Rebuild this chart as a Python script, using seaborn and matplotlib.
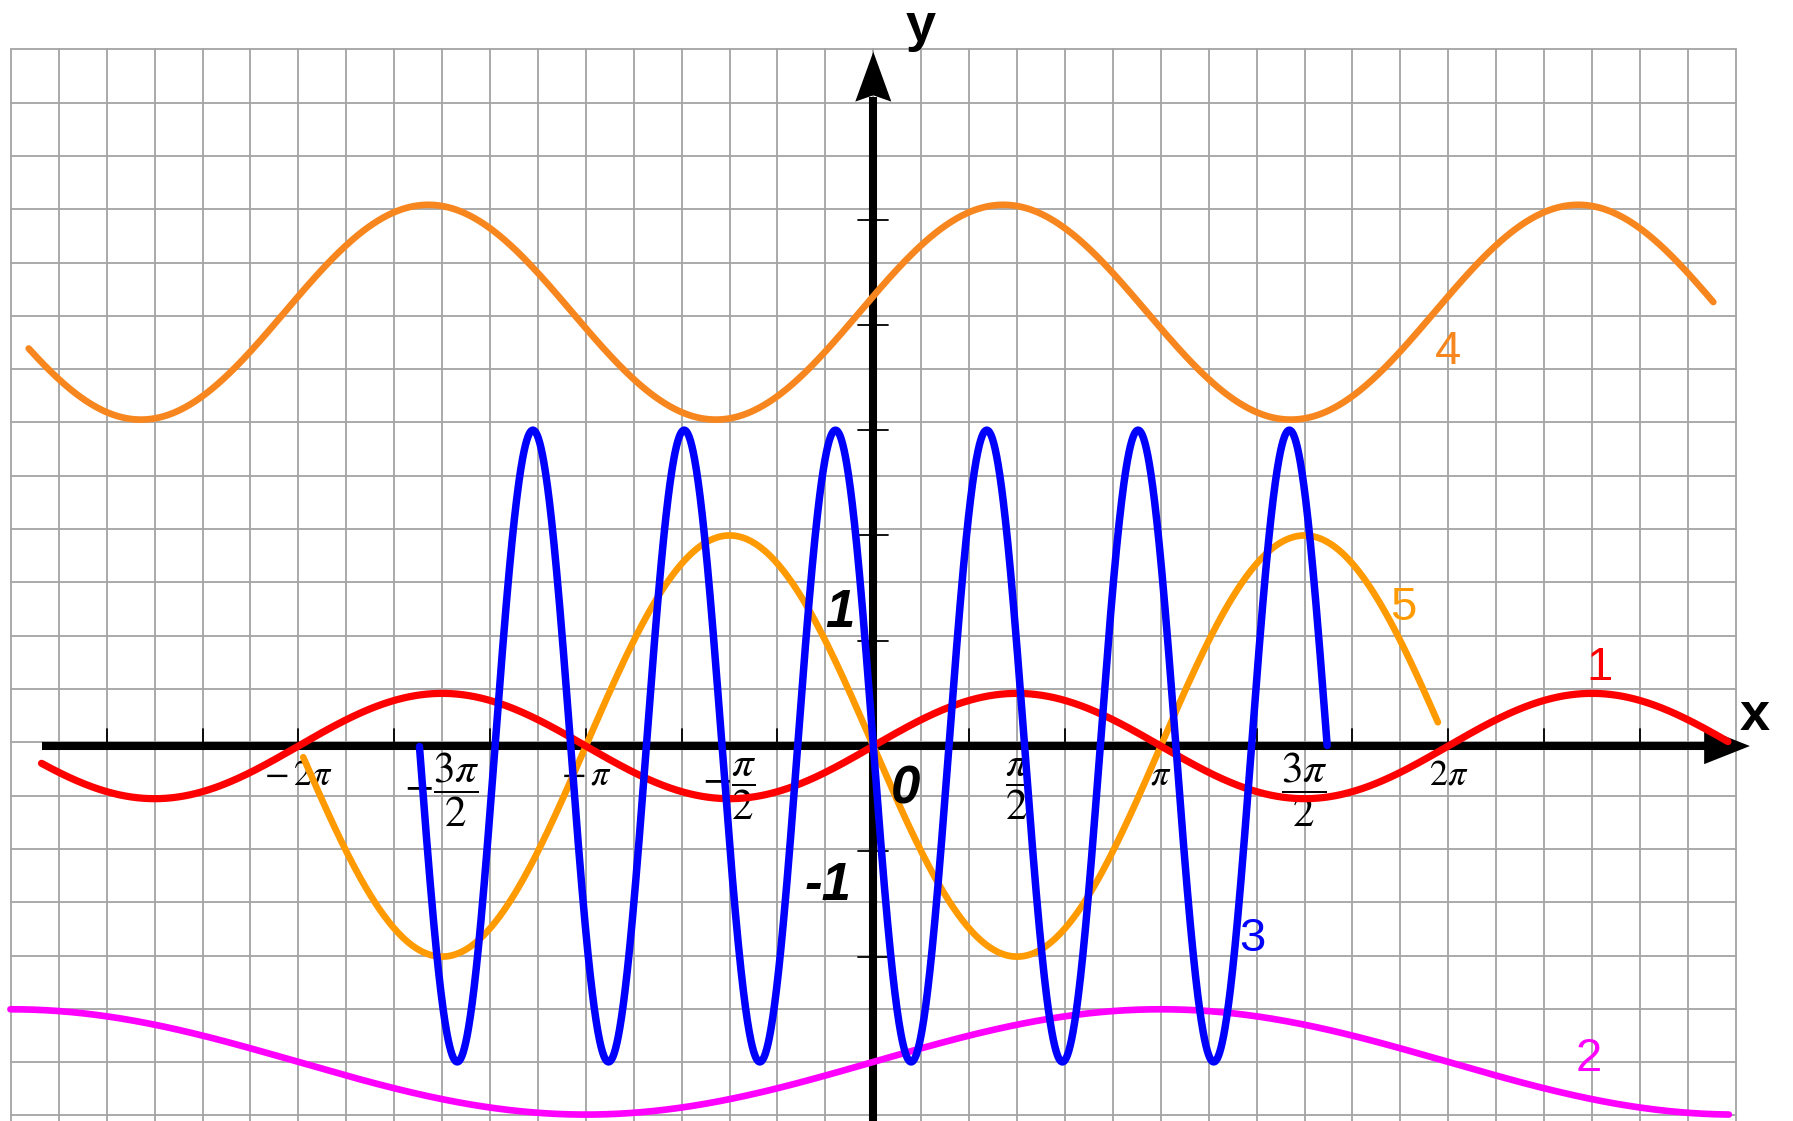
import numpy as np
import pandas as pd
import matplotlib
matplotlib.use("Agg")
import matplotlib.pyplot as plt
import seaborn as sns

# --- curves: y = offset + amplitude * sin(freq * x + phase)
CURVE_IDS = ["1", "2", "3", "4", "5"]
AMPLITUDE = [0.5, 0.5, -3.0, 1.02, -2.0]
FREQUENCY = [1.0, 0.5, 3.80, 1.0, 1.0]
PHASE = [0.0, 0.0, 0.0, 0.15, 0.0]
OFFSET = [0.0, -3.0, 0.0, 4.12, 0.0]
X_FROM = [-9.09, -9.43, -4.96, -9.23, -6.23]
X_TO = [9.34, 9.35, 4.96, 9.18, 6.17]

# --- axis furniture
PI_LABEL_MULT = [-2, -1.5, -1, -0.5, 0.5, 1, 1.5, 2]
PI_LABEL_TEXT = [r"$-\,2\pi$", r"$-\dfrac{3\pi}{2}$", r"$-\,\pi$", r"$-\dfrac{\pi}{2}$",
                 r"$\dfrac{\pi}{2}$", r"$\pi$", r"$\dfrac{3\pi}{2}$", r"$2\pi$"]
X_TICK_THIRDS = [-8, -7, -6, -5, -4, -3, -2, -1, 1, 2, 3, 4, 5, 6, 7, 8]   # multiples of pi/3
Y_TICKS = [-2, -1, 1, 2, 3, 4, 5]

COLORS = {"1": "#ff0000", "2": "#ff00ff", "3": "#0000ff", "4": "#f7861f", "5": "#ff9a00"}
WIDTHS = {"1": 5.2, "2": 4.8, "3": 5.4, "4": 4.8, "5": 4.8}
ORDER = ["2", "4", "5", "1", "3"]
LABEL_POS = {"1": (7.94, 0.63), "2": (7.82, -3.09), "3": (4.14, -1.95),
             "4": (6.28, 3.63), "5": (5.79, 1.20)}

sns.set_theme(style="white")
plt.rcParams["font.family"] = ["Liberation Sans", "DejaVu Sans"]
plt.rcParams["mathtext.fontset"] = "stix"
plt.rcParams["text.color"] = "black"

frames = []
for cid, a, f, p, o, x0, x1 in zip(CURVE_IDS, AMPLITUDE, FREQUENCY, PHASE, OFFSET, X_FROM, X_TO):
    x = np.linspace(x0, x1, 2000)
    frames.append(pd.DataFrame({"curve": cid, "x": x, "y": o + a * np.sin(f * x + p)}))
df = pd.concat(frames, ignore_index=True)

fig = plt.figure(figsize=(17.93, 11.21), dpi=100)
ax = fig.add_axes([0, 0, 1, 1])
XLIM = (-9.544, 10.051)
YLIM = (-3.561, 7.085)

# squared paper background
grid_top = 6.616
grid_step_y = 0.5062
for k in range(-18, 19):
    ax.plot([k * np.pi / 6] * 2, [YLIM[0], grid_top], color="#a4a4a4", lw=1.3, zorder=0)
for n in range(21):
    yy = grid_top - n * grid_step_y
    ax.plot([-3 * np.pi, 3 * np.pi], [yy, yy], color="#a4a4a4", lw=1.3, zorder=0)

# axes with arrows
ax.plot([-9.09, 9.10], [0, 0], color="black", lw=5.8, solid_capstyle="butt", zorder=2)
ax.plot([0, 0], [YLIM[0], 6.16], color="black", lw=5.8, solid_capstyle="butt", zorder=2)
ax.fill([9.08, 9.58, 9.08], [0.172, 0, -0.172], color="black", lw=0, zorder=2)
ax.fill([-0.197, 0, 0.197, 0], [6.12, 6.593, 6.12, 6.18], color="black", lw=0, zorder=2)
for k in X_TICK_THIRDS:
    ax.plot([k * np.pi / 3] * 2, [0, 0.16], color="black", lw=1.3, zorder=2)
for t in Y_TICKS:
    ax.plot([-0.164, 0.164], [t, t], color="black", lw=1.3, zorder=2)

for m, txt in zip(PI_LABEL_MULT, PI_LABEL_TEXT):
    if "frac" in txt:
        ax.text(m * np.pi, -0.413, txt, fontsize=31, ha="center", va="center", zorder=3)
    else:
        ax.text(m * np.pi, -0.37, txt, fontsize=26, ha="center", va="baseline", zorder=3)

bi = dict(fontsize=38, fontweight="bold", fontstyle="italic", ha="center", va="baseline",
          color="black", zorder=5)
ax.text(-0.37, 1.133, "1", **bi)
ax.text(-0.49, -1.462, "-1", **bi)
ax.text(0.349, -0.544, "0", **bi)
ax.text(9.636, 0.152, "x", fontsize=39, fontweight="bold", ha="center", va="baseline")
ax.text(0.519, 6.70, "y", fontsize=39, fontweight="bold", ha="center", va="baseline")

for i, cid in enumerate(ORDER):
    sns.lineplot(data=df[df.curve == cid], x="x", y="y", color=COLORS[cid], lw=WIDTHS[cid],
                 sort=False, estimator=None, legend=False, ax=ax, zorder=3 + i * 0.1)
    lx, ly = LABEL_POS[cid]
    ax.text(lx, ly, cid, color=COLORS[cid], fontsize=34, ha="center", va="baseline")

ax.set_xlim(*XLIM)
ax.set_ylim(*YLIM)
ax.axis("off")
fig.savefig("out.png", dpi=100, facecolor="white")
